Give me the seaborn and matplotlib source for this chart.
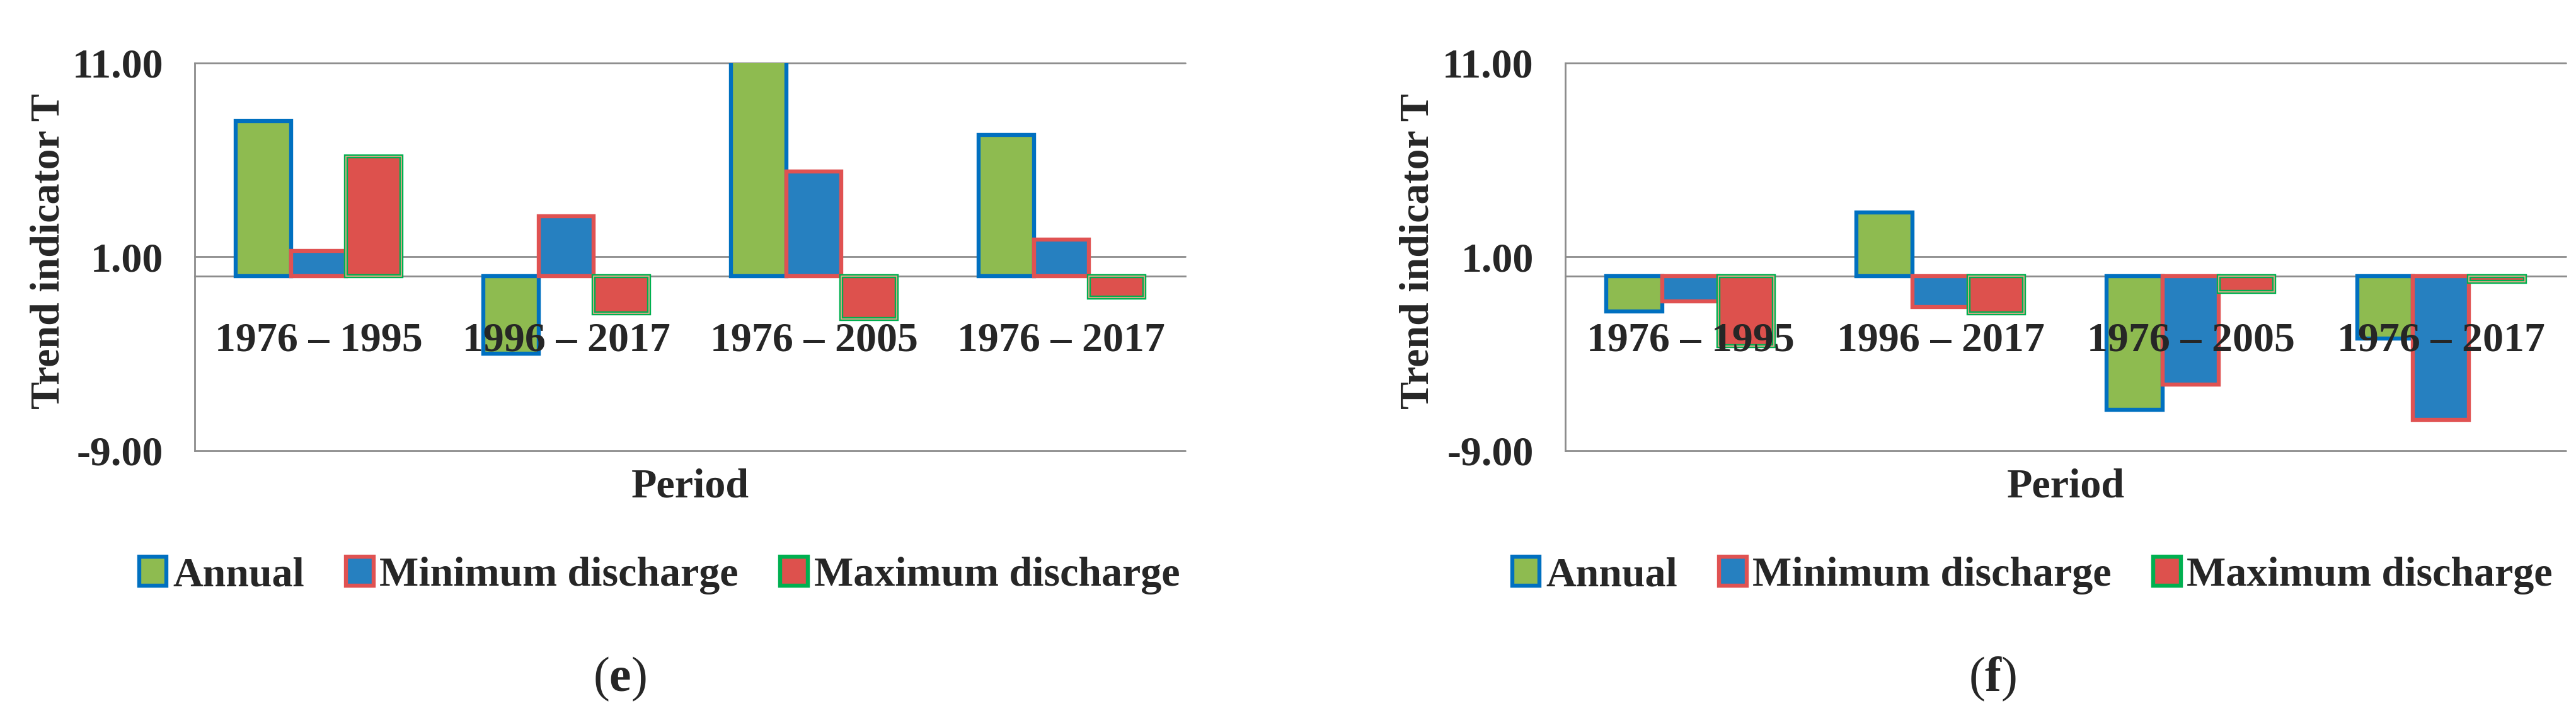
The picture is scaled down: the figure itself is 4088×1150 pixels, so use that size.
# Trend indicator T per period - panels (e) and (f)
import numpy as np
import pandas as pd
import matplotlib.pyplot as plt
import seaborn as sns
from matplotlib.patches import Rectangle

# -------------------------------
# data
# -------------------------------
periods = ["1976 – 1995", "1996 – 2017", "1976 – 2005", "1976 – 2017"]
series = ["Annual", "Minimum discharge", "Maximum discharge"]

annual_e = [8.0, -4.0, 11.6, 7.3]
min_e = [1.3, 3.1, 5.4, 1.9]
max_e = [6.2, -1.9, -2.2, -1.1]

annual_f = [-1.8, 3.3, -6.9, -3.2]
min_f = [-1.3, -1.6, -5.6, -7.4]
max_f = [-3.6, -1.9, -0.8, -0.3]

ytick_vals = [-9, 1, 11]

fill_colors = ["#8EBB50", "#2680C0", "#DD514D"]
edge_colors = ["#0070C0", "#E05252", "#00B050"]
grid_col = "#8C8C8C"

# -------------------------------
# style
# -------------------------------
sns.set_theme(style="white")
plt.rcParams["font.family"] = ["Liberation Serif", "DejaVu Serif"]
plt.rcParams["mathtext.fontset"] = "custom"
plt.rcParams["mathtext.rm"] = "Liberation Serif"
plt.rcParams["mathtext.bf"] = "Liberation Serif:bold"

FS = 47.5

fig = plt.figure(figsize=(40.88, 11.5), dpi=100)
ax_e = fig.add_axes([0.0756, 0.3783, 0.3845, 0.5348])
ax_f = fig.add_axes([0.6076, 0.3783, 0.3885, 0.5348])


def draw_panel(ax, annual, minimum, maximum, tag, leg_x, tag_x):
    df = pd.DataFrame({
        "Period": periods * 3,
        "T": annual + minimum + maximum,
        "Series": np.repeat(series, len(periods)),
    })

    sns.barplot(
        data=df, x="Period", y="T", hue="Series",
        order=periods, hue_order=series,
        palette=fill_colors, saturation=1,
        width=0.67, gap=0, errorbar=None,
        legend=False, ax=ax
    )
    # labels on top of the bars, like the original
    ax.set_axisbelow(False)

    for cont, ec in zip(ax.containers, edge_colors):
        for p in cont:
            p.set_edgecolor(ec)
            p.set_linewidth(4.6)

    # double border look on the maximum discharge bars
    for p in ax.containers[2]:
        ax.add_patch(Rectangle(p.get_xy(), p.get_width(), p.get_height(),
                               fill=False, edgecolor="#F2A890", lw=1.2,
                               zorder=1.1))

    for v in ytick_vals:
        ax.axhline(v, color=grid_col, lw=2, zorder=0.5, clip_on=False)

    ax.set_ylim(-9, 11)
    ax.set_yticks(ytick_vals)
    ax.set_yticklabels([f"{v:.2f}" for v in ytick_vals])

    for s in ["top", "right"]:
        ax.spines[s].set_visible(False)
    ax.spines["left"].set_color(grid_col)
    ax.spines["left"].set_linewidth(2)
    ax.spines["bottom"].set_position(("data", 0))
    ax.spines["bottom"].set_color(grid_col)
    ax.spines["bottom"].set_linewidth(2)
    ax.spines["bottom"].set_zorder(0.6)

    ax.tick_params(axis="both", length=0, labelsize=FS)
    ax.tick_params(axis="x", pad=52)
    ax.tick_params(axis="y", pad=36)
    for lab in ax.get_xticklabels() + ax.get_yticklabels():
        lab.set_fontweight("bold")

    ax.set_xlabel("Period", fontsize=FS, fontweight="bold")
    ax.xaxis.set_label_coords(0.5, -0.044)
    ax.set_ylabel("Trend indicator T", fontsize=FS, fontweight="bold")
    ax.yaxis.set_label_coords(-0.128, 0.515)

    ax.legend(
        handles=ax.containers[:3], labels=series,
        loc="center", bbox_to_anchor=(leg_x, 0.206),
        bbox_transform=fig.transFigure, ncol=3, frameon=False,
        prop={"size": FS, "weight": "bold"},
        handlelength=0.66, handleheight=0.7, handletextpad=0.15,
        columnspacing=1.0, borderpad=0, borderaxespad=0
    )

    fig.text(tag_x, 0.0635, r"($\mathbf{" + tag + "}$)", fontsize=56,
             ha="center", va="center")


draw_panel(ax_e, annual_e, min_e, max_e, "e", 0.256, 0.2405)
draw_panel(ax_f, annual_f, min_f, max_f, "f", 0.789, 0.7735)

fig.savefig("out.png", dpi=100)
